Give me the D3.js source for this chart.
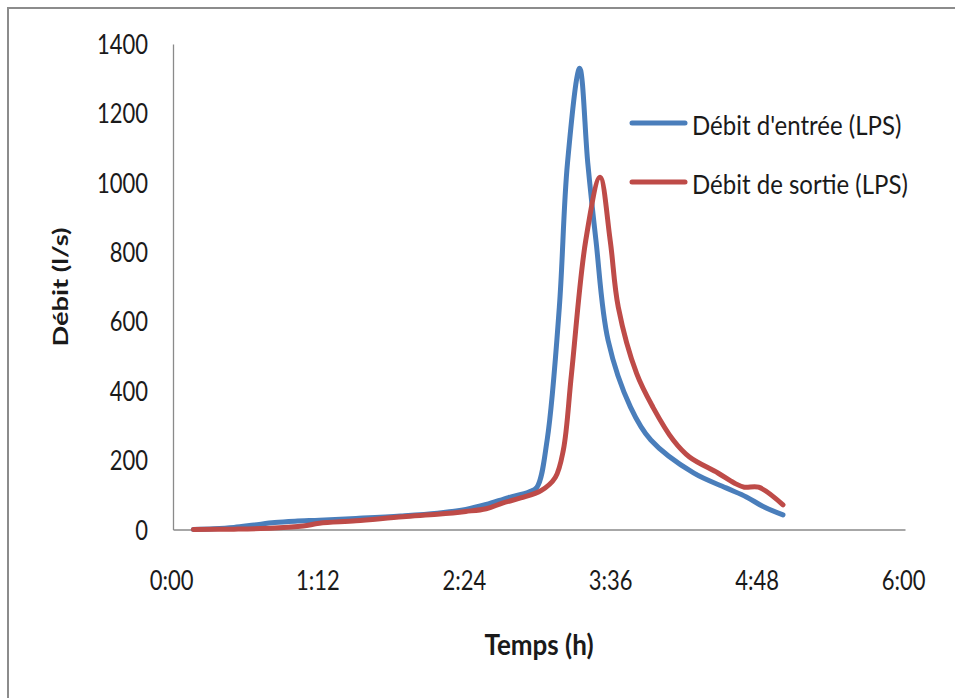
<!DOCTYPE html>
<html>
<head>
<meta charset="utf-8">
<script src="https://cdn.jsdelivr.net/npm/d3@7"></script>
<style>
  body { margin: 0; background: #fff; }
  text { font-family: Lato, "Open Sans", sans-serif; fill: #1a1a1a; }
</style>
</head>
<body>
<div class="viz"></div>
<script>
// data (time in minutes, flow in l/s)
var inTimes  = [10, 20, 30, 40, 50, 60, 72, 90, 112, 130, 144, 154, 165, 175, 179, 184, 190, 194, 200, 204, 208, 214, 225, 235, 256, 272, 282, 290, 300]
var inFlow   = [0, 2, 6, 13, 20, 24, 27, 32, 39, 47, 58, 72, 92, 108, 122, 258, 641, 1056, 1330, 1056, 834, 545, 353, 258, 163, 120, 94, 67, 42]

var outTimes = [10, 30, 50, 64, 72, 90, 113, 130, 144, 154, 162, 171, 181, 188, 192, 196, 203, 210, 215, 219, 228, 236, 246, 254, 268, 276, 281, 288, 300]
var outFlow  = [0, 1, 4, 10, 18, 25, 37, 44, 52, 60, 76, 91, 112, 150, 230, 450, 834, 1016, 834, 641, 450, 353, 258, 209, 163, 134, 122, 122, 71]

var xTicks = [0, 72, 144, 216, 288, 360]
var yTicks = [0, 200, 400, 600, 800, 1000, 1200, 1400]
var seriesNames = ["Débit d'entrée (LPS)", "Débit de sortie (LPS)"]
var seriesColors = ["#4a7ebb", "#be4b48"]

var W = 955, H = 698
var margin = {top: 44, left: 173}
var width = 905 - margin.left,
    height = 529.5 - margin.top

var svg = d3.select(".viz")
  .append("svg")
    .attr("width", W)
    .attr("height", H)

// outer frame (only top and left edges fall inside the picture)
svg.append("rect")
  .attr("x", 8).attr("y", 8)
  .attr("width", 1200).attr("height", 1200)
  .attr("fill", "none")
  .attr("stroke", "#8c8c8c")
  .attr("stroke-width", 2)

var g = svg.append("g")
  .attr("transform", "translate(" + margin.left + "," + margin.top + ")")

var x = d3.scaleLinear().domain([0, 360]).range([0, width])
var y = d3.scaleLinear().domain([0, 1400]).range([height, 0])

function fmtTime(m) {
  var h = Math.floor(m / 60), mm = m % 60
  return h + ":" + (mm < 10 ? "0" : "") + mm
}

// axes
var xAxis = g.append("g")
  .attr("transform", "translate(0," + height + ")")
  .call(d3.axisBottom(x).tickValues(xTicks).tickFormat(fmtTime).tickSize(0).tickSizeOuter(0))

var yAxis = g.append("g")
  .call(d3.axisLeft(y).tickValues(yTicks).tickFormat(d3.format("d")).tickSize(0).tickSizeOuter(0))

xAxis.select(".domain").attr("stroke", "#8a8a8a").attr("stroke-width", 1.3)
yAxis.select(".domain").attr("stroke", "#8a8a8a").attr("stroke-width", 1.3)

xAxis.selectAll("text")
  .attr("x", null).attr("y", null).attr("dy", null)
  .attr("transform", "translate(-2,60.5) scale(1,1.2)")
  .attr("text-anchor", "middle")
  .style("font-size", "22px")
  .style("fill", "#1a1a1a")

yAxis.selectAll("text")
  .attr("x", null).attr("dy", null)
  .attr("transform", "translate(-25,9.5) scale(1,1.2)")
  .attr("text-anchor", "end")
  .style("font-size", "22px")
  .style("fill", "#1a1a1a")

// lines (smoothed like the spreadsheet's smooth lines)
var line = d3.line()
  .x(d => x(d[0]))
  .y(d => y(d[1]))
  .curve(d3.curveCatmullRom.alpha(0.5))

var inData = inTimes.map((t, i) => [t, inFlow[i]])
var outData = outTimes.map((t, i) => [t, outFlow[i]])

g.append("path")
  .datum(inData)
  .attr("fill", "none")
  .attr("stroke", seriesColors[0])
  .attr("stroke-width", 5)
  .attr("stroke-linejoin", "round")
  .attr("stroke-linecap", "round")
  .attr("d", line)

g.append("path")
  .datum(outData)
  .attr("fill", "none")
  .attr("stroke", seriesColors[1])
  .attr("stroke-width", 5)
  .attr("stroke-linejoin", "round")
  .attr("stroke-linecap", "round")
  .attr("d", line)

// axis titles
svg.append("text")
  .attr("transform", "translate(539,655) scale(1,1.08)")
  .attr("text-anchor", "middle")
  .style("font-size", "26px")
  .style("font-weight", "bold")
  .text("Temps (h)")

svg.append("text")
  .attr("transform", "translate(68,287) rotate(-90) scale(1.3,1)")
  .attr("text-anchor", "middle")
  .style("font-size", "21px")
  .style("font-weight", "bold")
  .text("Débit (l/s)")

// legend
var legend = svg.append("g")
var legendY = [123, 182]
seriesNames.forEach((name, i) => {
  legend.append("line")
    .attr("x1", 632).attr("x2", 685)
    .attr("y1", legendY[i]).attr("y2", legendY[i])
    .attr("stroke", seriesColors[i])
    .attr("stroke-width", 5)
    .attr("stroke-linecap", "round")
  legend.append("text")
    .attr("transform", "translate(692," + (legendY[i] + 12) + ") scale(1,1.15)")
    .style("font-size", "24px")
    .text(name)
})
</script>
</body>
</html>
